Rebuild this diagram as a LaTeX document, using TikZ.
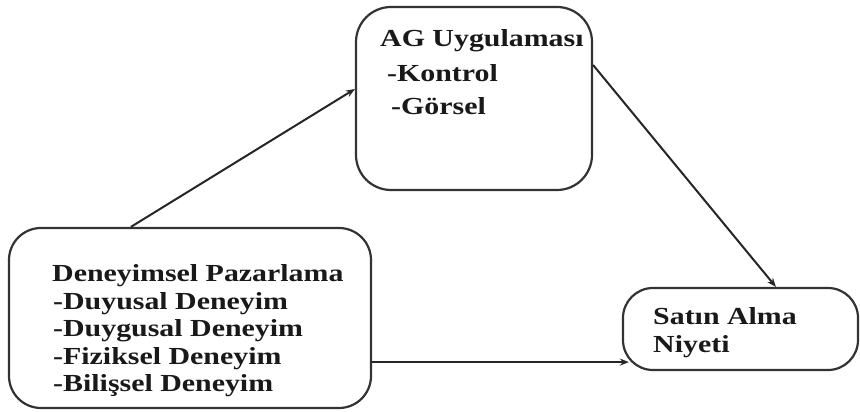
\documentclass[tikz,border=0pt]{standalone}
\usepackage{fontspec}
\setmainfont{Liberation Serif}[FakeStretch=1.22]
\usetikzlibrary{arrows.meta,calc}
\begin{document}
\begin{tikzpicture}[x=1pt,y=1pt,
  box/.style={draw=black!80, line width=2.2pt, rounded corners=#1, inner sep=0pt},
  lbl/.style={anchor=base west, inner sep=0pt, font=\fontsize{24.5}{28}\selectfont\bfseries, text=black!90},
  conn/.style={draw=black!85, line width=2pt, -{Stealth[length=9pt,width=7pt]}}]
\useasboundingbox (0,0) rectangle (860,412);
\fill[white] (0,0) rectangle (860,412);
% boxes
\node[box=35pt, minimum width=236pt, minimum height=183pt] (ag) at (474,313.5) {};
\node[box=32pt, minimum width=362pt, minimum height=180pt] (den) at (190,94) {};
\node[box=30pt, minimum width=235pt, minimum height=82pt] (sat) at (740.5,83) {};
% texts
\node[lbl] (ag1) at (380,365) {AG Uygulaması};
\node[lbl] (ag2) at (387,330) {-Kontrol};
\node[lbl] (ag3) at (391,297) {-Görsel};
\node[lbl] (d1) at (52,130) {Deneyimsel Pazarlama};
\node[lbl] (d2) at (53,102.5) {-Duyusal Deneyim};
\node[lbl] (d3) at (53,75) {-Duygusal Deneyim};
\node[lbl] (d4) at (53,47.5) {-Fiziksel Deneyim};
\node[lbl] (d5) at (53,20) {-Bilişsel Deneyim};
\node[lbl] (s1) at (653,87) {Satın Alma};
\node[lbl] (s2) at (653,59) {Niyeti};
% connectors
\draw[conn] ($(den.north west)+(123,0)$) -- ($(ag.west)+(0,9.5)$);
\draw[conn] ($(ag.east)+(0,33.5)$) -- ($(sat.north west)+(154,0)$);
\draw[conn] ($(den.south east)+(0,47)$) -- ($(sat.south west)+(7,9)$);
\end{tikzpicture}
\end{document}
